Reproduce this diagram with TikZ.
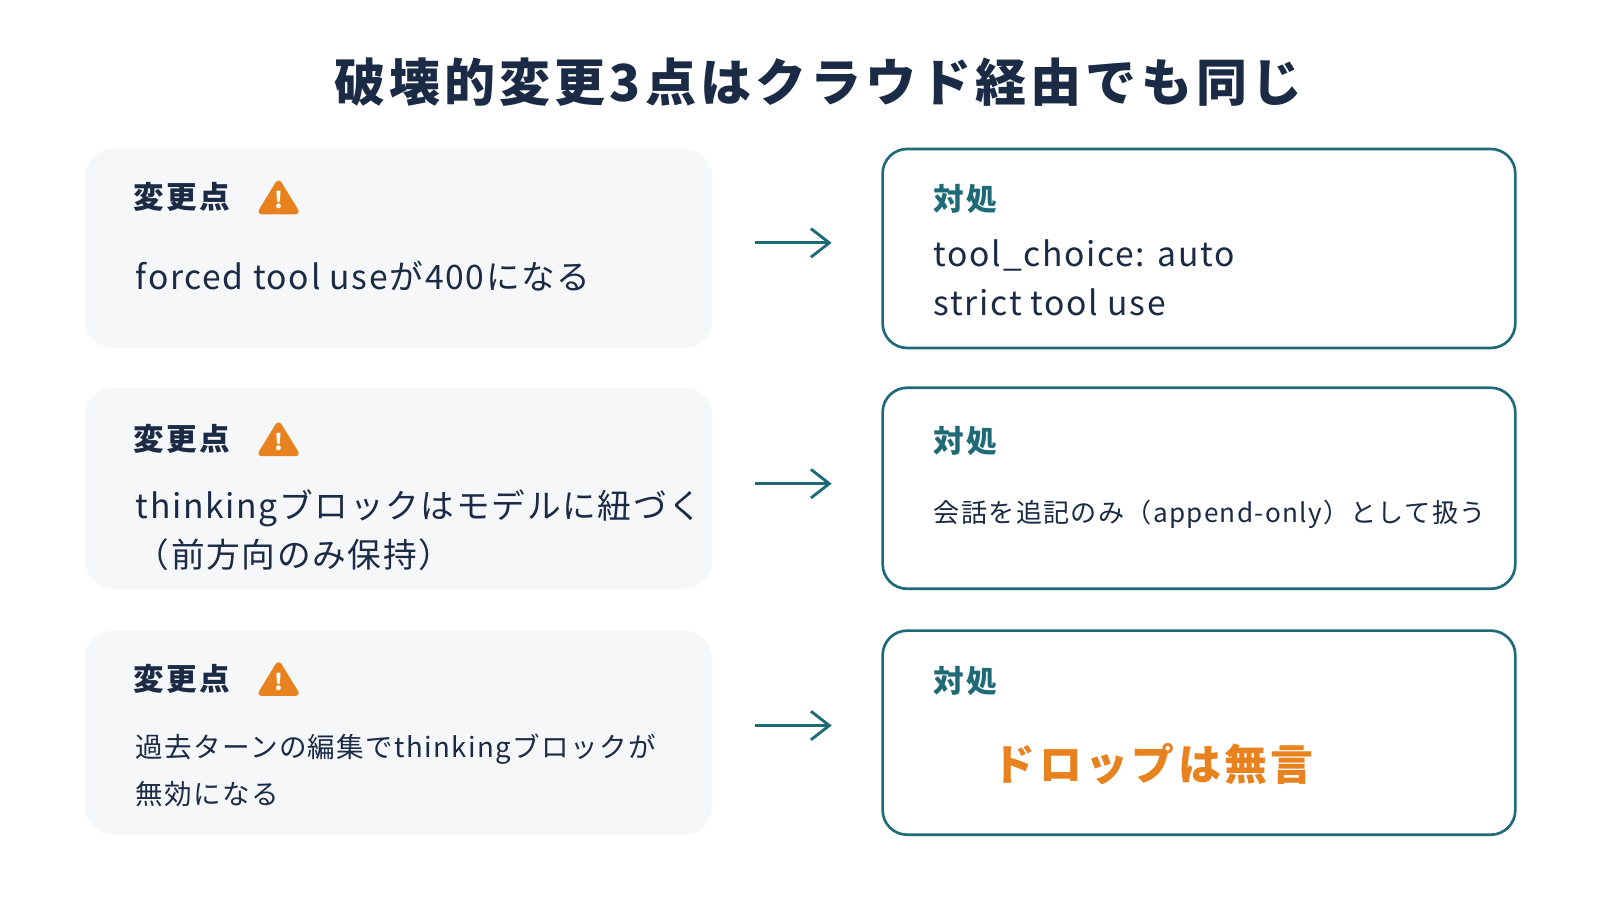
\documentclass[tikz,border=0pt]{standalone}
\usepackage{fontspec}
\setmainfont{Noto Sans CJK JP}
\newfontfamily\spc[LetterSpace=5]{Noto Sans CJK JP}
\newfontfamily\spcb[LetterSpace=8]{Noto Sans CJK JP}
\newfontfamily\spct[LetterSpace=8]{Noto Sans CJK JP}
\usetikzlibrary{arrows.meta}
\definecolor{navy}{HTML}{1B2A45}
\definecolor{teal}{HTML}{1E6A76}
\definecolor{orng}{HTML}{E8821E}
\definecolor{lfill}{HTML}{F6F7F8}
\begin{document}
\begin{tikzpicture}[x=0.5pt,y=-0.5pt,
  lbox/.style={fill=lfill,rounded corners=14pt},
  rbox/.style={draw=teal,line width=1.3pt,rounded corners=12pt},
  lab/.style={anchor=west,font=\spcb\bfseries\fontsize{15}{18}\selectfont,text=navy},
  tlab/.style={anchor=west,font=\spcb\bfseries\fontsize{15}{18}\selectfont,text=teal},
  body/.style={anchor=west,font=\spc\fontsize{16.5}{24}\selectfont,text=navy,align=left},
  sbody/.style={anchor=west,font=\spc\fontsize{13.5}{23}\selectfont,text=navy,align=left},
  arr/.style={-{Straight Barb[length=9pt,width=14pt]},teal,line width=1.4pt}]
\fill[white] (0,0) rectangle (1568,880);
\useasboundingbox (0,0) rectangle (1568,880);
\node[font=\spct\bfseries\fontsize{25}{30}\selectfont,text=navy] (title) at (802,80) {破壊的変更3点はクラウド経由でも同じ};
\foreach \i/\t/\b in {1/146/341,2/380/577,3/618/818}{
  \fill[lbox] (83,\t) rectangle (698,\b);
  \draw[rbox] (865,\t) rectangle (1485,\b);
}
\foreach \i/\y in {1/193,2/430,3/665}{
  \node[lab] (ch\i) at (124,\y) {変更点};
  \fill[orng,rounded corners=3pt] (273,\y-19) -- (295,\y+17) -- (251,\y+17) -- cycle;
  \node[text=white,font=\bfseries\fontsize{11}{12}\selectfont] (w\i) at (273,\y+3) {!};
  \node[tlab] (ta\i) at (908,\y+2) {対処};
}
\node[body] (b1) at (126,271) {forced tool useが400になる};
\node[body] (b2) at (126,520) {thinkingブロックはモデルに紐づく\\（前方向のみ保持）};
\node[sbody] (b3) at (126,755) {過去ターンの編集でthinkingブロックが\\無効になる};
\node[body] (r1) at (908,272) {tool\_choice: auto\\strict tool use};
\node[sbody,font=\spc\fontsize{12.8}{20}\selectfont] (r2) at (908,504) {会話を追記のみ（append-only）として扱う};
\node[anchor=west,font=\spct\bfseries\fontsize{21}{24}\selectfont,text=orng] (r3) at (966,749) {ドロップは無言};
\coordinate (a1s) at (740,238); \coordinate (a1e) at (815,238);
\coordinate (a2s) at (740,474); \coordinate (a2e) at (815,474);
\coordinate (a3s) at (740,711); \coordinate (a3e) at (815,711);
\draw[arr] (a1s) -- (a1e);
\draw[arr] (a2s) -- (a2e);
\draw[arr] (a3s) -- (a3e);
\end{tikzpicture}
\end{document}
